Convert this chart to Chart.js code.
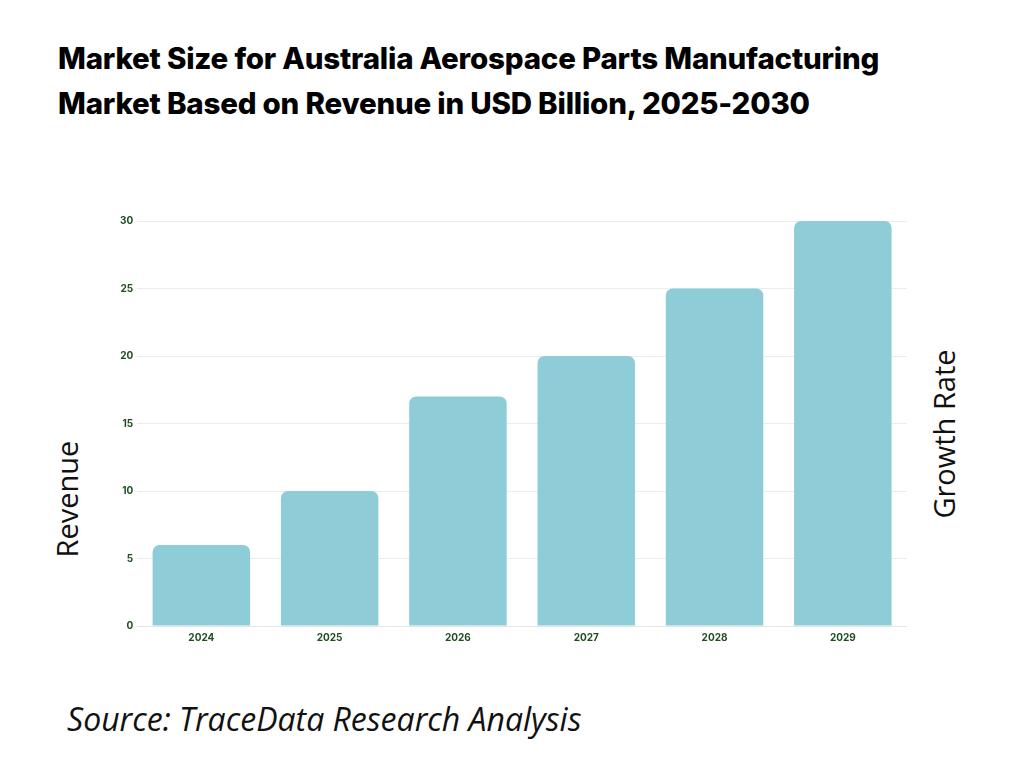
<!DOCTYPE html>
<html><head><meta charset="utf-8">
<script src="https://cdn.jsdelivr.net/npm/chart.js@4/dist/chart.umd.min.js"></script>
<style>
body{margin:0;width:1024px;height:768px;background:#fff;position:relative;overflow:hidden;font-family:Inter,"Open Sans",sans-serif}
#title{position:absolute;left:58px;top:36px;font-size:29.5px;font-weight:800;line-height:45px;color:#000;font-family:Inter,sans-serif;letter-spacing:-0.2px}
#src{position:absolute;left:67px;top:697px;font-size:32px;font-style:italic;color:#111;font-family:"Open Sans",sans-serif}
.yt{position:absolute;font-size:29px;color:#111;transform:rotate(-90deg);transform-origin:center;white-space:nowrap;font-family:"Open Sans",sans-serif;line-height:40px;height:40px}
#wrap{position:absolute;left:116px;top:211px;width:791px;height:439px}
</style></head><body>
<div id="title">Market Size for Australia Aerospace Parts Manufacturing<br>Market Based on Revenue in USD Billion, 2025-2030</div>
<div class="yt" style="left:7px;top:479px;width:120px;text-align:center">Revenue</div>
<div class="yt" style="left:857px;top:414px;width:174px;text-align:center">Growth Rate</div>
<div id="wrap"><canvas id="c"></canvas></div>
<div id="src">Source: TraceData Research Analysis</div>
<script>
const categories=["2024","2025","2026","2027","2028","2029"];
const revenue=[6,10,17,20,25,30];
const yTicks=[0,5,10,15,20,25,30];
new Chart(document.getElementById('c'),{
type:'bar',
data:{labels:categories,datasets:[{data:revenue,backgroundColor:'#8ecdd8',borderRadius:{topLeft:7,topRight:7},borderSkipped:'bottom',categoryPercentage:0.76,barPercentage:1}]},
options:{responsive:true,maintainAspectRatio:false,animation:false,
layout:{padding:{top:10,right:0,bottom:0,left:0}},
plugins:{legend:{display:false},tooltip:{enabled:false}},
scales:{
x:{grid:{display:false,drawTicks:false},border:{display:true,color:'#e5e5e5'},ticks:{color:'#1f4d1f',padding:6,font:{size:10,weight:'bold',family:'Inter'}}},
y:{min:0,max:30,afterBuildTicks:a=>{a.ticks=yTicks.map(v=>({value:v}))},grid:{color:'#ececec',drawTicks:false},border:{display:false},ticks:{color:'#1f4d1f',padding:4,font:{size:10,weight:'bold',family:'Inter'}}}
}}});
</script></body></html>
